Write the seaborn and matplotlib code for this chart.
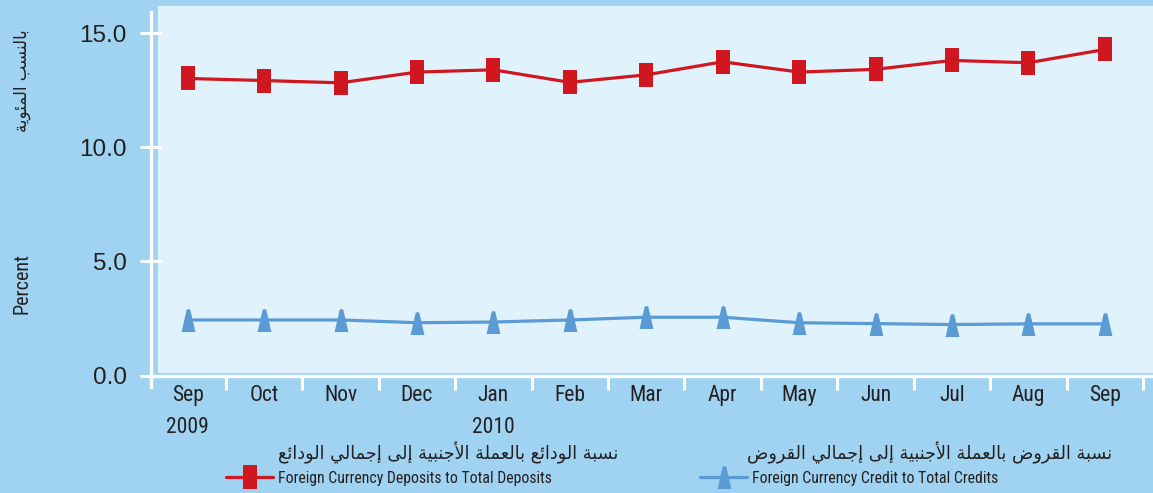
import pandas as pd
import seaborn as sns
import matplotlib.pyplot as plt
from matplotlib.patches import Rectangle
from matplotlib.lines import Line2D

months = ['Sep', 'Oct', 'Nov', 'Dec', 'Jan', 'Feb', 'Mar', 'Apr', 'May', 'Jun', 'Jul', 'Aug', 'Sep']
tick_labels = ['Sep\n2009', 'Oct', 'Nov', 'Dec', 'Jan\n2010', 'Feb', 'Mar', 'Apr', 'May', 'Jun', 'Jul', 'Aug', 'Sep']
deposits = [13.01, 12.92, 12.82, 13.29, 13.39, 12.84, 13.17, 13.74, 13.29, 13.41, 13.80, 13.70, 14.28]
credits = [2.44, 2.44, 2.44, 2.32, 2.35, 2.44, 2.56, 2.56, 2.32, 2.28, 2.24, 2.27, 2.27]
y_ticks = [0, 5, 10, 15]

dep_label = 'Foreign Currency Deposits to Total Deposits'
cred_label = 'Foreign Currency Credit to Total Credits'
dep_label_ar = 'نسبة الودائع بالعملة الأجنبية إلى إجمالي الودائع'
cred_label_ar = 'نسبة القروض بالعملة الأجنبية إلى إجمالي القروض'
ylabel_ar = 'بالنسب المئوية'

# matplotlib has no arabic shaping, so map letters to presentation forms by hand
AR_FORMS = {
    'ا': ('\uFE8D', '\uFE8E', None, None),
    'أ': ('\uFE83', '\uFE84', None, None),
    'إ': ('\uFE87', '\uFE88', None, None),
    'ب': ('\uFE8F', '\uFE90', '\uFE91', '\uFE92'),
    'ة': ('\uFE93', '\uFE94', None, None),
    'ج': ('\uFE9D', '\uFE9E', '\uFE9F', '\uFEA0'),
    'د': ('\uFEA9', '\uFEAA', None, None),
    'ر': ('\uFEAD', '\uFEAE', None, None),
    'س': ('\uFEB1', '\uFEB2', '\uFEB3', '\uFEB4'),
    'ض': ('\uFEBD', '\uFEBE', '\uFEBF', '\uFEC0'),
    'ع': ('\uFEC9', '\uFECA', '\uFECB', '\uFECC'),
    'ق': ('\uFED5', '\uFED6', '\uFED7', '\uFED8'),
    'ل': ('\uFEDD', '\uFEDE', '\uFEDF', '\uFEE0'),
    'م': ('\uFEE1', '\uFEE2', '\uFEE3', '\uFEE4'),
    'ن': ('\uFEE5', '\uFEE6', '\uFEE7', '\uFEE8'),
    'و': ('\uFEED', '\uFEEE', None, None),
    'ى': ('\uFEEF', '\uFEF0', None, None),
    'ي': ('\uFEF1', '\uFEF2', '\uFEF3', '\uFEF4'),
    'ئ': ('\uFE89', '\uFE8A', '\uFE8B', '\uFE8C'),
}
LAM_ALEF = {'ا': ('\uFEFB', '\uFEFC'), 'أ': ('\uFEF7', '\uFEF8'), 'إ': ('\uFEF9', '\uFEFA')}


def shape_arabic(text):
    tokens = []
    i = 0
    while i < len(text):
        if text[i] == 'ل' and i + 1 < len(text) and text[i + 1] in LAM_ALEF:
            tokens.append(('LA', text[i + 1]))
            i += 2
        else:
            tokens.append(('C', text[i]))
            i += 1

    def joins_next(tok):
        return tok[0] == 'C' and tok[1] in AR_FORMS and AR_FORMS[tok[1]][2] is not None

    def joins_prev(tok):
        return tok[0] == 'LA' or tok[1] in AR_FORMS

    out = []
    for k, tok in enumerate(tokens):
        p = k > 0 and joins_next(tokens[k - 1]) and joins_prev(tok)
        n = k + 1 < len(tokens) and joins_next(tok) and joins_prev(tokens[k + 1])
        if tok[0] == 'LA':
            out.append(LAM_ALEF[tok[1]][1 if p else 0])
        elif tok[1] in AR_FORMS:
            f = AR_FORMS[tok[1]]
            out.append(f[3] if (p and n) else f[1] if p else f[2] if n else f[0])
        else:
            out.append(tok[1])
    return ''.join(reversed(out))


df = pd.DataFrame({'pos': range(len(months)), 'month': months,
                   'deposits': deposits, 'credits': credits})

sns.set_theme(style='white')
narrow = ['Roboto Condensed', 'Liberation Sans Narrow', 'Roboto', 'DejaVu Sans']
plt.rcParams['font.family'] = narrow

W, H = 1153, 493
bg = '#a0d3f1'
panel = '#e0f2fc'
red = '#d0161f'
blue = '#5b9bd5'
ink = '#231f20'

fig = plt.figure(figsize=(W / 100, H / 100), dpi=100, facecolor=bg)
fig.patches.append(Rectangle((158 / W, (H - 373) / H), (W - 158) / W, 367 / H,
                             transform=fig.transFigure, facecolor=panel, edgecolor='none', zorder=-5))
ax = fig.add_axes([151 / W, (H - 387) / H, (W - 151) / W, 375 / H])
ax.set_facecolor('none')

rect_marker = [(-0.57, -1), (0.57, -1), (0.57, 1), (-0.57, 1)]
tri_marker = [(-0.6, -1), (0.6, -1), (0.16, 0.93), (0, 1), (-0.16, 0.93)]

sns.lineplot(data=df, x='pos', y='deposits', ax=ax, color=red, lw=2.3,
             marker=rect_marker, markersize=16.6, markeredgewidth=0, zorder=3)
sns.lineplot(data=df, x='pos', y='credits', ax=ax, color=blue, lw=2.3,
             marker=tri_marker, markersize=16.6, markeredgewidth=0, zorder=3)

ax.set_xlim(-0.48, 12.63)
ax.set_ylim(-0.494, 15.92)

for s in ['top', 'right']:
    ax.spines[s].set_visible(False)
for s in ['left', 'bottom']:
    ax.spines[s].set_color('white')
    ax.spines[s].set_linewidth(2.4)
ax.spines['bottom'].set_position(('data', 0))

ax.set_yticks(y_ticks)
ax.set_yticklabels([f'{v:.1f}' for v in y_ticks], family='Liberation Sans', fontsize=17.5, color=ink)
ax.tick_params(axis='y', which='major', direction='inout', length=16, width=2.2, color='white', pad=9.3, left=True)

ax.set_xticks(range(len(months)))
ax.set_xticklabels(tick_labels, fontsize=15.5, color=ink)
ax.set_xticks([i + 0.5 for i in range(len(months))], minor=True)
ax.tick_params(axis='x', which='major', length=0, pad=7)
ax.tick_params(axis='x', which='minor', direction='out', length=10, width=2.2, color='white', bottom=True)
for t in ax.get_xticklabels():
    t.set_linespacing(1.65)

ax.set_xlabel('')
ax.set_ylabel('')

fig.text(22 / W, (H - 283) / H, 'Percent', rotation=90, ha='center', va='center', fontsize=14.5, color=ink)
fig.text(22 / W, (H - 81) / H, shape_arabic(ylabel_ar), rotation=90, ha='center', va='center',
         family='DejaVu Sans', fontsize=12, color=ink)

fig.text(278 / W, (H - 453) / H, shape_arabic(dep_label_ar), ha='left', va='center',
         family='DejaVu Sans', fontsize=12.7, color=ink)
fig.text(747 / W, (H - 453) / H, shape_arabic(cred_label_ar), ha='left', va='center',
         family='DejaVu Sans', fontsize=12.7, color=ink)

h1 = Line2D([], [], color=red, lw=2.3, marker=rect_marker, markersize=16.6, markeredgewidth=0)
h2 = Line2D([], [], color=blue, lw=2.3, marker=tri_marker, markersize=16.6, markeredgewidth=0)
leg1 = fig.legend([h1], [dep_label], loc='center left', bbox_to_anchor=(226 / W, (H - 478) / H),
                  frameon=False, fontsize=11.3, borderpad=0, borderaxespad=0, handlelength=3.0,
                  handletextpad=0.3, labelcolor=ink)
leg2 = fig.legend([h2], [cred_label], loc='center left', bbox_to_anchor=(700 / W, (H - 478) / H),
                  frameon=False, fontsize=11.3, borderpad=0, borderaxespad=0, handlelength=3.0,
                  handletextpad=0.3, labelcolor=ink)

fig.savefig('out.png', dpi=100, facecolor=bg)
